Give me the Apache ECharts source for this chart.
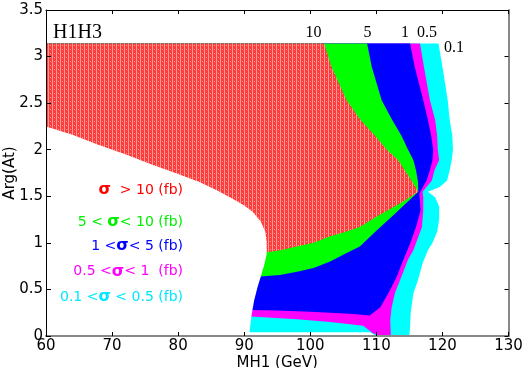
<!DOCTYPE html>
<html>
<head>
<meta charset="utf-8">
<script src="https://cdn.jsdelivr.net/npm/echarts@6/dist/echarts.min.js"></script>
<style>
html, body { margin: 0; padding: 0; background: #fff; }
#main { width: 526px; height: 368px; }
</style>
</head>
<body>
<div id="main"></div>
<script>
var myChart = echarts.init(document.getElementById('main'));

// edge of the white (excluded) area, top-left to bottom
var leftEdge = [[60, 2.25], [64, 2.16], [68, 2.05], [72, 1.95], [76, 1.84], [80, 1.74], [83.3, 1.65],
  [86, 1.56], [88.3, 1.47], [90, 1.40], [91.3, 1.33], [92.5, 1.23], [93.2, 1.12], [93.4, 1.0],
  [93.4, 0.88], [93.1, 0.78], [92.6, 0.66], [92.0, 0.52], [91.5, 0.38], [91.1, 0.22], [90.8, 0.04]];

// cross section contours (fb), from top edge down
var c10 = [[102.1, 3.14], [103.2, 2.89], [105.5, 2.53], [107.6, 2.32], [109.8, 2.15], [111.6, 2.0],
  [113.3, 1.89], [114.3, 1.78], [115.4, 1.66], [116.35, 1.55], [113.5, 1.42], [110.0, 1.28],
  [107.5, 1.17], [105.0, 1.11], [103.0, 1.07], [100.5, 1.0], [97.9, 0.96], [95.5, 0.92], [93.4, 0.90]];
var c5 = [[108.6, 3.14], [109.3, 2.89], [110.8, 2.53], [112.4, 2.32], [113.8, 2.15], [114.8, 2.0],
  [115.6, 1.89], [116.0, 1.78], [116.3, 1.66], [116.35, 1.55], [112.6, 1.30], [110.0, 1.13],
  [107.5, 0.96], [105.5, 0.89], [103.0, 0.80], [100.5, 0.73], [98.0, 0.69], [95.4, 0.655], [92.4, 0.64]];
var c1 = [[115.1, 3.14], [115.8, 2.89], [117.1, 2.53], [117.8, 2.32], [118.3, 2.15], [118.6, 2.0],
  [118.5, 1.89], [118.1, 1.78], [117.6, 1.67], [116.9, 1.58], [116.5, 1.53], [116.7, 1.35],
  [116.0, 1.17], [115.1, 0.99], [114.1, 0.82], [113.1, 0.64], [111.9, 0.47], [110.6, 0.31],
  [109.0, 0.22], [106.0, 0.24], [100.0, 0.26], [95.0, 0.275], [91.0, 0.28], [60, 0.28]];
var c05 = [[116.6, 3.14], [117.2, 2.89], [118.1, 2.53], [118.9, 2.32], [119.2, 2.15], [119.3, 2.0],
  [119.5, 1.89], [118.8, 1.78], [118.4, 1.67], [117.6, 1.60], [117.0, 1.55], [117.1, 1.49],
  [117.1, 1.35], [116.9, 1.17], [115.6, 0.92], [114.8, 0.82], [113.8, 0.64], [112.8, 0.46],
  [112.3, 0.30], [112.1, 0.17], [112.2, 0.0], [110.6, 0.0], [109.5, 0.03], [108.0, 0.11],
  [103.0, 0.15], [98.0, 0.18], [91.0, 0.21], [60, 0.21]];
var c01 = [[119.4, 3.14], [120.0, 2.89], [120.8, 2.53], [121.1, 2.32], [121.5, 2.15], [121.6, 2.0],
  [121.4, 1.89], [121.1, 1.78], [120.7, 1.67], [119.6, 1.60], [117.8, 1.55], [118.9, 1.49],
  [119.5, 1.39], [119.5, 1.25], [119.2, 1.12], [118.5, 1.0], [117.8, 0.92], [117.0, 0.78],
  [116.3, 0.60], [115.6, 0.46], [115.2, 0.25], [115.1, 0.10], [115.0, 0.0], [110.0, 0.0],
  [109.0, 0.04], [90.8, 0.04], [60, 0.04]];

var contourLabels = ['10', '5', '1', '0.5', '0.1'];
var legendLines = ['{s|σ}  > 10 (fb)', '5 < {s|σ}< 10 (fb)', '1 <{s|σ}< 5 (fb)', '0.5 <{s|σ}< 1  (fb)', '0.1 <{s|σ} < 0.5 (fb)'];

// red area is drawn with a light dotted texture
var cv = document.createElement('canvas');
cv.width = 4; cv.height = 4;
var ctx = cv.getContext('2d');
ctx.fillStyle = '#ff3c3c';
ctx.fillRect(0, 0, 4, 4);
ctx.fillStyle = '#ff9a9a';
ctx.fillRect(0, 0, 1, 4);
ctx.fillRect(2, 1, 1, 1);

var topLeft = [[60, 3.14]];
var regions = [
  { pts: topLeft.concat(c01), fill: '#00ffff' },
  { pts: topLeft.concat(c05), fill: '#ff00ff' },
  { pts: topLeft.concat(c1), fill: '#0000ff' },
  { pts: topLeft.concat(c5, [[60, 0.64]]), fill: '#00ff00' },
  { pts: topLeft.concat(c10, [[60, 0.90]]), fill: { image: cv, repeat: 'repeat' } },
  { pts: leftEdge.concat([[90.8, 0], [60, 0]]), fill: '#ffffff' }
];

var legendColors = ['#ff0000', '#00ee00', '#0000ff', '#ff00ff', '#00e8ff'];
var legendY = [190, 222, 246, 271.5, 297];
var labelX = [313.5, 367.5, 405, 427, 454];
var labelY = [33, 33, 33, 33, 48];

var graphics = [{
  type: 'text', x: 53, y: 33, z: 100,
  style: { text: 'H1H3', fill: '#000', font: '20px "Liberation Serif"', verticalAlign: 'middle', textVerticalAlign: 'middle' }
}];
contourLabels.forEach(function (t, i) {
  graphics.push({
    type: 'text', x: labelX[i], y: labelY[i], z: 100,
    style: { text: t, fill: '#000', font: '16px "Liberation Serif"', align: 'center', textAlign: 'center', verticalAlign: 'middle', textVerticalAlign: 'middle' }
  });
});
legendLines.forEach(function (t, i) {
  graphics.push({
    type: 'text', x: 183, y: legendY[i], z: 100,
    style: {
      text: t, fill: legendColors[i], font: '14px "DejaVu Sans"',
      align: 'right', textAlign: 'right', verticalAlign: 'middle', textVerticalAlign: 'middle',
      rich: { s: { fill: legendColors[i], fontSize: 16, fontWeight: 'bold', fontFamily: 'DejaVu Sans' } }
    }
  });
});

var axisFont = { color: '#000', fontFamily: 'DejaVu Sans', fontSize: 15 };

option = {
  animation: false,
  backgroundColor: '#fff',
  grid: { left: 46, right: 17.5, top: 10, bottom: 32, outerBoundsMode: 'none' },
  graphic: graphics,
  xAxis: [
    {
      type: 'value', min: 60, max: 130, interval: 10, position: 'bottom', z: 10,
      name: 'MH1 (GeV)', nameLocation: 'middle', nameGap: 20, nameMoveOverlap: false, nameTextStyle: axisFont,
      axisLine: { onZero: false, lineStyle: { color: '#888', width: 2 } },
      axisTick: { inside: true, length: 4, lineStyle: { color: '#000' } },
      axisLabel: { color: '#000', fontFamily: 'DejaVu Sans', fontSize: 15, margin: 3 },
      splitLine: { show: false }
    },
    {
      type: 'value', min: 60, max: 130, interval: 10, position: 'top', z: 10,
      axisLine: { onZero: false, lineStyle: { color: '#000', width: 1 } },
      axisTick: { inside: true, length: 4, lineStyle: { color: '#000' } },
      axisLabel: { show: false },
      splitLine: { show: false }
    }
  ],
  yAxis: [
    {
      type: 'value', min: 0, max: 3.5, interval: 0.5, position: 'left', z: 10,
      name: 'Arg(At)', nameLocation: 'middle', nameGap: 28, nameMoveOverlap: false, nameTextStyle: axisFont,
      axisLine: { show: true, onZero: false, lineStyle: { color: '#000', width: 1 } },
      axisTick: { show: true, inside: true, length: 5, lineStyle: { color: '#000' } },
      axisLabel: { color: '#000', fontFamily: 'DejaVu Sans', fontSize: 15, margin: 3 },
      splitLine: { show: false }
    },
    {
      type: 'value', min: 0, max: 3.5, interval: 0.5, position: 'right', z: 10,
      axisLine: { show: true, onZero: false, lineStyle: { color: '#888', width: 2 } },
      axisTick: { show: true, inside: true, length: 4, lineStyle: { color: '#000' } },
      axisLabel: { show: false },
      splitLine: { show: false }
    }
  ],
  series: [
    {
      type: 'custom',
      silent: true,
      renderItem: function (params, api) {
        var r = regions[params.dataIndex];
        var pts = r.pts.map(function (p) { return api.coord(p); });
        return { type: 'polygon', shape: { points: pts }, style: { fill: r.fill } };
      },
      data: regions.map(function (r) { return r.pts[0]; })
    }
  ]
};

myChart.setOption(option);
</script>
</body>
</html>
